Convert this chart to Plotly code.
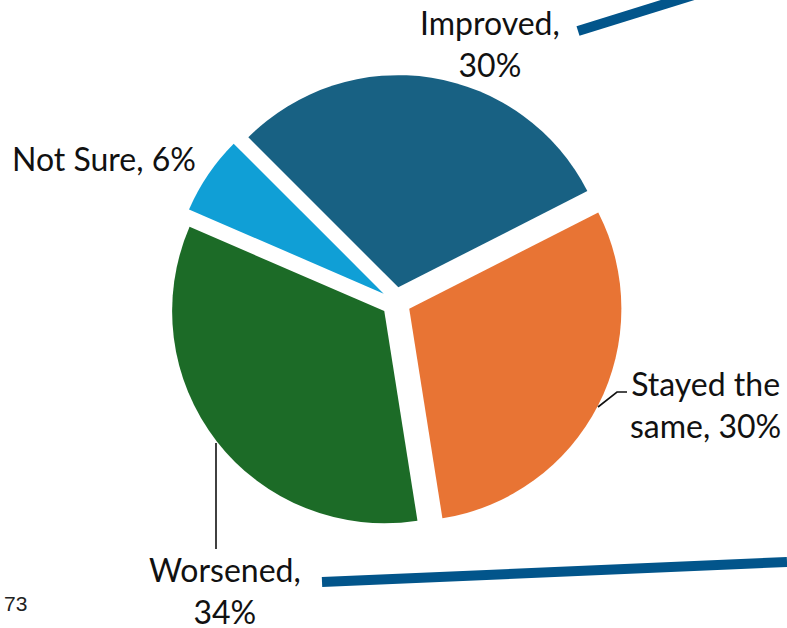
import plotly.graph_objects as go

W, H = 787, 628

# ---- data ----
categories = ["Improved", "Stayed the same", "Worsened", "Not Sure"]
percents = [30, 30, 34, 6]
colors = ["#186183", "#E87434", "#1C6B27", "#109FD6"]
label_templates = ["Improved,<br>{v}%", "Stayed the<br>same, {v}%", "Worsened,<br>{v}%", "Not Sure, {v}%"]
page_number = "73"


def P(x, y):
    """pixel -> paper coords"""
    return x / W, 1 - y / H


fig = go.Figure()
fig.add_trace(go.Pie(
    labels=categories,
    values=percents,
    sort=False,
    direction="clockwise",
    rotation=-45,
    pull=[0.07] * len(categories),
    marker=dict(colors=colors, line=dict(width=0)),
    textinfo="none",
    hoverinfo="label+percent",
    showlegend=False,
    domain=dict(x=[169 / W, 623 / W], y=[1 - 529 / H, 1 - 75 / H]),
))

label_pos = [(490, 43), (705, 404), (225, 590), (104, 158)]
annotations = []
for tpl, v, (x, y) in zip(label_templates, percents, label_pos):
    px, py = P(x, y)
    annotations.append(dict(
        x=px, y=py, xref="paper", yref="paper", text=tpl.format(v=v),
        showarrow=False, xanchor="center", yanchor="middle", align="center",
        font=dict(family="Lato", size=32, color="#111111"),
    ))
px, py = P(15, 603)
annotations.append(dict(x=px, y=py, xref="paper", yref="paper", text=page_number,
                        showarrow=False, xanchor="center", yanchor="middle",
                        font=dict(family="Liberation Sans", size=21, color="#222222")))

shapes = []


def line_path(pts, color, width):
    d = ""
    for i, (x, y) in enumerate(pts):
        a, b = P(x, y)
        d += ("M" if i == 0 else "L") + f"{a},{b} "
    return dict(type="path", path=d.strip(), xref="paper", yref="paper",
                line=dict(color=color, width=width))


# leader lines
shapes.append(line_path([(598, 407), (617, 392), (627, 392)], "#111111", 1.6))
shapes.append(line_path([(216, 443), (216, 549)], "#111111", 1.6))
# decorative blue lines
shapes.append(line_path([(578, 31), (787, -34)], "#02558B", 10))
shapes.append(line_path([(322, 582), (787, 562)], "#02558B", 10))

fig.update_layout(
    width=W, height=H,
    margin=dict(l=0, r=0, t=0, b=0),
    paper_bgcolor="white", plot_bgcolor="white",
    annotations=annotations, shapes=shapes,
)

fig.write_html("out.html",
               config={"displayModeBar": False},
               post_script="document.body.style.margin='0';document.body.style.overflow='hidden';")
